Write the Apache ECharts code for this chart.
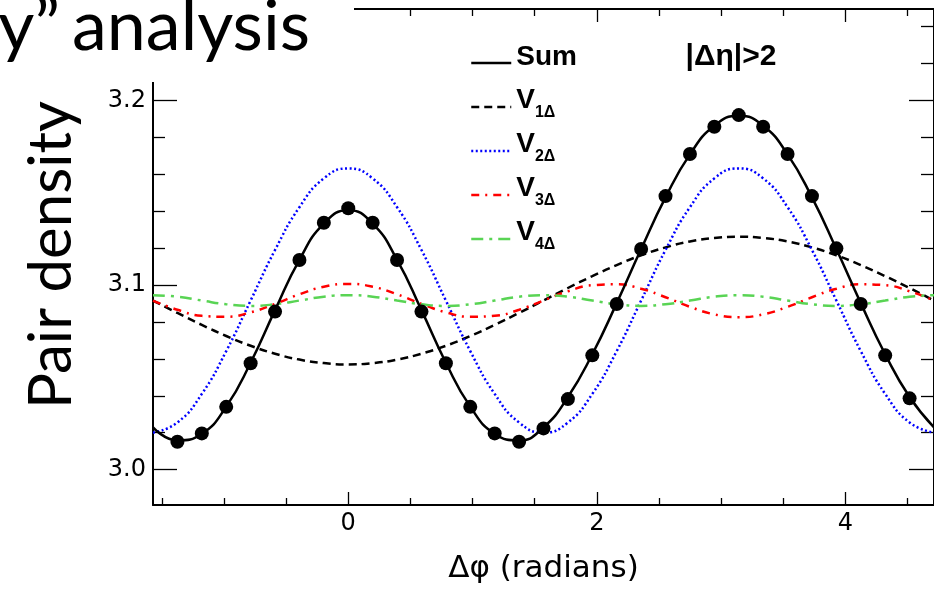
<!DOCTYPE html>
<html>
<head>
<meta charset="utf-8">
<script src="https://cdn.jsdelivr.net/npm/echarts@6/dist/echarts.min.js"></script>
<style>
html,body{margin:0;padding:0;background:#fff;}
#c{width:934px;height:589px;}
</style>
</head>
<body>
<div id="c"></div>
<script>
// Delta-phi sample points (radians)
const PHI = [-1.5708,-1.3744,-1.1781,-0.9817,-0.7854,-0.5890,-0.3927,-0.1963,0,
  0.1963,0.3927,0.5890,0.7854,0.9817,1.1781,1.3744,1.5708,1.7671,1.9635,2.1598,
  2.3562,2.5525,2.7489,2.9452,3.1416,3.3379,3.5343,3.7306,3.9270,4.1233,4.3197,4.5160,4.7124];
// Curves
const SUM = [3.0229,3.0158,3.0194,3.0341,3.0579,3.0864,3.1137,3.1333,3.1405,
  3.1333,3.1137,3.0864,3.0579,3.0341,3.0194,3.0158,3.0229,3.0393,3.0625,3.0902,
  3.1195,3.1475,3.1708,3.1863,3.1917,3.1863,3.1708,3.1475,3.1195,3.0902,3.0625,3.0393,3.0229];
const V1 = [3.0916,3.0849,3.0784,3.0724,3.0671,3.0628,3.0596,3.0577,3.0570,
  3.0577,3.0596,3.0628,3.0671,3.0724,3.0784,3.0849,3.0916,3.0984,3.1048,3.1108,
  3.1161,3.1204,3.1236,3.1255,3.1262,3.1255,3.1236,3.1204,3.1161,3.1108,3.1048,3.0984,3.0916];
const V2 = [3.0200,3.0255,3.0410,3.0642,3.0916,3.1190,3.1422,3.1578,3.1632,
  3.1578,3.1422,3.1190,3.0916,3.0642,3.0410,3.0255,3.0200,3.0255,3.0410,3.0642,
  3.0916,3.1190,3.1422,3.1578,3.1632,3.1578,3.1422,3.1190,3.0916,3.0642,3.0410,3.0255,3.0200];
const V3 = [3.0916,3.0866,3.0833,3.0828,3.0852,3.0898,3.0950,3.0991,3.1006,
  3.0991,3.0950,3.0898,3.0852,3.0828,3.0833,3.0866,3.0916,3.0966,3.0999,3.1004,
  3.0980,3.0934,3.0882,3.0841,3.0826,3.0841,3.0882,3.0934,3.0980,3.1004,3.0999,3.0966,3.0916];
const V4 = [3.0945,3.0937,3.0916,3.0896,3.0887,3.0896,3.0916,3.0937,3.0945,
  3.0937,3.0916,3.0896,3.0887,3.0896,3.0916,3.0937,3.0945,3.0937,3.0916,3.0896,
  3.0887,3.0896,3.0916,3.0937,3.0945,3.0937,3.0916,3.0896,3.0887,3.0896,3.0916,3.0937,3.0945];
// Data points (dots)
const DOT_PHI = [-1.3744,-1.1781,-0.9817,-0.7854,-0.5890,-0.3927,-0.1963,0,
  0.1963,0.3927,0.5890,0.7854,0.9817,1.1781,1.3744,1.5708,1.7671,1.9635,2.1598,
  2.3562,2.5525,2.7489,2.9452,3.1416,3.3379,3.5343,3.7306,3.9270,4.1233,4.3197,4.5160];
const DOT_VAL = [3.0151,3.0196,3.0340,3.0576,3.0856,3.1136,3.1338,3.1416,
  3.1338,3.1136,3.0856,3.0576,3.0340,3.0196,3.0151,3.0223,3.0382,3.0619,3.0897,
  3.1195,3.1482,3.1710,3.1858,3.1921,3.1858,3.1710,3.1482,3.1199,3.0897,3.0619,3.0386];
// Series names and ticks
const NAMES = ['Sum','V1Δ','V2Δ','V3Δ','V4Δ'];
const X_MAJOR = [0,2,4];
const X_MINOR = [-1.5,-1,-0.5,0.5,1,1.5,2.5,3,3.5,4.5];
const Y_MAJOR = [3.0,3.1,3.2];
const Y_MINOR = [3.02,3.04,3.06,3.08,3.12,3.14,3.16,3.18,3.22,3.24];
const X_RANGE = [-1.5708, 4.7124];
const Y_RANGE = [2.9808, 3.2496];
const X_TITLE = 'Δφ (radians)';
const Y_TITLE = 'Pair density';
const CUT_LABEL = '|Δη|>2';

const zip = (a,b) => a.map((v,i)=>[v,b[i]]);
const tickFont = 'DejaVu Sans';

function xAxis(pos, ticks, len, line, labels, extra) {
  return Object.assign({
    type:'value', position:pos, min:X_RANGE[0], max:X_RANGE[1],
    splitLine:{show:false},
    axisLine:{show:line, onZero:false, lineStyle:{color:'#000', width:2}},
    axisTick:{show:true, inside:true, length:len, customValues:ticks, lineStyle:{color:'#000', width:1.3}},
    axisLabel:labels ? {show:true, customValues:labels, margin:7, color:'#000', fontSize:24, fontFamily:tickFont, formatter:v=>String(v)} : {show:false}
  }, extra||{});
}
function yAxis(pos, ticks, len, line, labels) {
  return {
    type:'value', position:pos, min:Y_RANGE[0], max:Y_RANGE[1],
    splitLine:{show:false},
    axisLine:{show:line, onZero:false, lineStyle:{color:'#000', width:2}},
    axisTick:{show:true, inside:true, length:len, customValues:ticks, lineStyle:{color:'#000', width:1.3}},
    axisLabel:labels ? {show:true, customValues:labels, margin:7, color:'#000', fontSize:24, fontFamily:tickFont, formatter:v=>v.toFixed(1)} : {show:false}
  };
}

const chart = echarts.init(document.getElementById('c'), null, {renderer:'canvas'});
const lf = 'Liberation Sans';
chart.setOption({
  animation:false,
  backgroundColor:'#fff',
  grid:{left:153, top:9, width:782, height:496, containLabel:false},
  xAxis:[
    xAxis('bottom', X_MAJOR, 13, true, X_MAJOR, {name:X_TITLE, nameLocation:'middle', nameGap:48,
      nameTextStyle:{fontFamily:tickFont, fontSize:31, color:'#000'}}),
    xAxis('bottom', X_MINOR, 7, false, null),
    xAxis('top', X_MAJOR, 13, true, null),
    xAxis('top', X_MINOR, 7, false, null)
  ],
  yAxis:[
    yAxis('left', Y_MAJOR, 24, true, Y_MAJOR),
    yAxis('left', Y_MINOR, 12, false, null),
    yAxis('right', Y_MAJOR, 25, true, null),
    yAxis('right', Y_MINOR, 13, false, null)
  ],
  legend:{
    orient:'vertical', left:470, top:37, padding:0, itemGap:4,
    itemWidth:40, itemHeight:14, selectedMode:false,
    data:NAMES,
    itemStyle:{color:'rgba(0,0,0,0)', borderColor:'rgba(0,0,0,0)', borderWidth:0},
    lineStyle:{width:2.5},
    formatter:n => n==='Sum' ? '{m|Sum}' : '{v|V}{s|'+n.slice(1)+'}',
    textStyle:{color:'#000', fontFamily:lf, fontWeight:'bold', fontSize:28,
      rich:{
        m:{fontFamily:lf, fontWeight:'bold', fontSize:28, lineHeight:28, padding:[6,0,6,0], verticalAlign:'bottom'},
        v:{fontFamily:lf, fontWeight:'bold', fontSize:28, lineHeight:28, padding:[5,0,7,0], verticalAlign:'bottom'},
        s:{fontFamily:lf, fontWeight:'bold', fontSize:16, lineHeight:16, verticalAlign:'bottom'}
      }}
  },
  series:[
    {name:NAMES[1], type:'line', data:zip(PHI,V1), smooth:true, symbol:'none', z:3,
      lineStyle:{color:'#000', width:2.5, type:[8,5]}, itemStyle:{color:'#000'}},
    {name:NAMES[2], type:'line', data:zip(PHI,V2), smooth:true, symbol:'none', z:3,
      lineStyle:{color:'#0000ff', width:2.5, type:[2,2.5]}, itemStyle:{color:'#0000ff'}},
    {name:NAMES[3], type:'line', data:zip(PHI,V3), smooth:true, symbol:'none', z:3,
      lineStyle:{color:'#ff0000', width:2.5, type:[8,6,2,6]}, itemStyle:{color:'#ff0000'}},
    {name:NAMES[4], type:'line', data:zip(PHI,V4), smooth:true, symbol:'none', z:3,
      lineStyle:{color:'#59d454', width:2.5, type:[12,6,3,6]}, itemStyle:{color:'#59d454'}},
    {name:NAMES[0], type:'line', data:zip(PHI,SUM), smooth:true, symbol:'none', z:4,
      lineStyle:{color:'#000', width:2.5}, itemStyle:{color:'#000'}},
    {name:'points', type:'scatter', data:zip(DOT_PHI,DOT_VAL), symbol:'circle', symbolSize:14, z:5,
      itemStyle:{color:'#000', opacity:1}}
  ],
  graphic:[
    {type:'rect', left:0, top:0, shape:{x:0,y:0,width:354,height:82}, style:{fill:'#fff'}, z:100, silent:true},
    {type:'text', x:60, y:27, z:101, style:{text:'y\u201d', fontFamily:'Lato', fontSize:70, fill:'#000', align:'right', verticalAlign:'middle'}},
    {type:'text', x:72, y:27, z:101, style:{text:'analysis', fontFamily:'Lato', fontSize:70, fill:'#000', align:'left', verticalAlign:'middle'}},
    {type:'text', x:52, y:255, rotation:Math.PI/2, z:101, style:{text:Y_TITLE, fontFamily:'Lato', fontSize:60, fill:'#000', align:'center', verticalAlign:'middle'}},
    {type:'text', x:731, y:57, z:101, style:{text:CUT_LABEL, fontFamily:lf, fontWeight:'bold', fontSize:30, fill:'#000', align:'center', verticalAlign:'middle'}}
  ]
});
</script>
</body>
</html>
